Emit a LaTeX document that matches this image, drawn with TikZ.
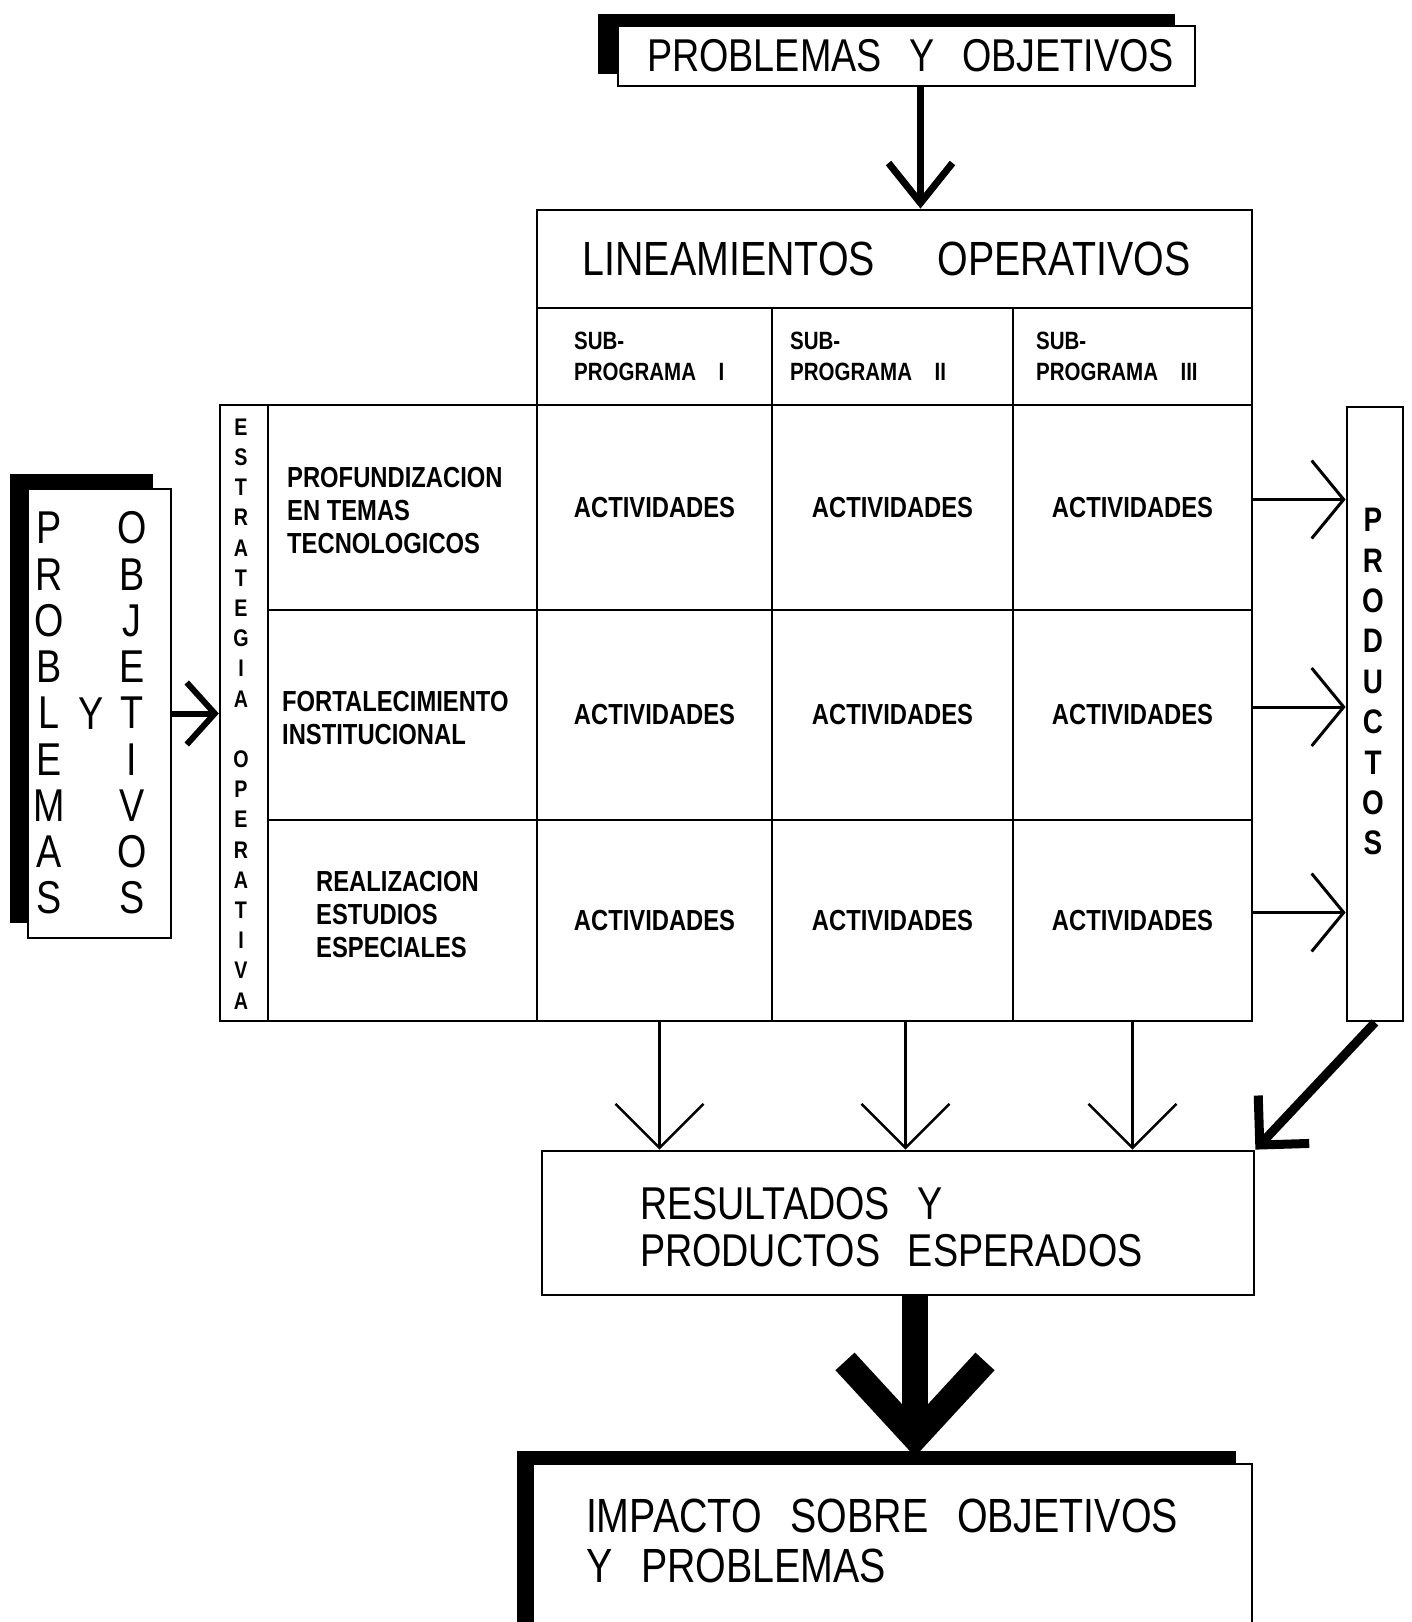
\documentclass[tikz,border=0pt]{standalone}
\usepackage{fontspec}
\setmainfont[FakeStretch=0.82]{Liberation Sans}
\usetikzlibrary{arrows.meta,fit,shadows}
\newcommand{\wgap}{\hspace{.6em}}

\begin{document}
\begin{tikzpicture}[x=0.5pt, y=-0.5pt,
box/.style={draw, line width=1.4pt, fill=white, inner sep=0pt},
cell/.style={draw, line width=1.2pt, inner sep=0pt},
blackshadow/.style 2 args={drop shadow={shadow xshift=#1, shadow yshift=#2, fill=black, opacity=1}},
small/.style={font=\fontsize{14.5}{16.5}\selectfont\bfseries, inner sep=0pt},
sub/.style={font=\fontsize{12.5}{15.5}\selectfont\bfseries, align=left, anchor=west, inner sep=0pt},
tall/.style={font=\fontsize{23}{23}\selectfont, inner sep=0pt},
stack/.style={font=\fontsize{12}{12}\selectfont\bfseries, inner sep=0pt},
barb/.style 2 args={-{Straight Barb[length=#1, width=#2]}}]
\useasboundingbox (0,0) rectangle (1412,1622);
\clip (0,0) rectangle (1412,1622);

% boxes at top and left
\node[box, blackshadow={-10pt}{6pt}, fit={(618,26) (1195,86)}] (prob) {};
\node[font=\fontsize{23}{23}\selectfont] (probtxt) at ([xshift=2pt]prob.center) {PROBLEMAS\wgap Y\wgap OBJETIVOS};
\node[box, blackshadow={-9pt}{7.5pt}, fit={(28,489) (171,938)}] (po) {};
\foreach \l [count=\i from 0] in {P,R,O,B,L,E,M,A,S}
    \node[tall] (pa\i) at (49, 528+46.25*\i) {\l};
\foreach \l [count=\i from 0] in {O,B,J,E,T,I,V,O,S}
    \node[tall] (ob\i) at (132, 528+46.25*\i) {\l};
\node[tall] (py) at (91,714) {Y};

% lineamientos and sub-programas
\node[cell, line width=1.4pt, fit={(537,210) (1252,308)}] (lin) {};
\node[font=\fontsize{24}{24}\selectfont] (lintxt) at ([xshift=-4pt]lin.center) {LINEAMIENTOS\hspace{1.3em}OPERATIVOS};
\foreach \c/\xa/\xb/\dx/\n in {1/537/772/38/I, 2/772/1013/19/II, 3/1013/1252/24/III}{
    \node[cell, fit={(\xa,308) (\xb,405)}] (s\c) {};
    \node[sub] (st\c) at ([xshift=\dx*0.5pt]s\c.west) {SUB-\\PROGRAMA\hspace{.9em}\n};
}

% estrategia operativa
\node[cell, fit={(220,405) (268,1021)}] (est) {};
\foreach \l [count=\i from 0] in {E,S,T,R,A,T,E,G,I,A}
    \node[stack] (e\i) at (241, 427+30.2*\i) {\l};
\foreach \l [count=\i from 11] in {O,P,E,R,A,T,I,V,A}
    \node[stack] (e\i) at (241, 427+30.2*\i) {\l};

% rows
\node[cell, fit={(268,405) (537,610)}] (r1) {};
\node[cell, fit={(268,610) (537,820)}] (r2) {};
\node[cell, fit={(268,820) (537,1021)}] (r3) {};
\node[small, align=left, anchor=west] (rt1) at ([shift={(20,3)}]r1.west) {PROFUNDIZACION\\EN TEMAS\\TECNOLOGICOS};
\node[small, align=left, anchor=west] (rt2) at ([shift={(15,3)}]r2.west) {FORTALECIMIENTO\\INSTITUCIONAL};
\node[small, align=left, anchor=west] (rt3) at ([shift={(49,-6)}]r3.west) {REALIZACION\\ESTUDIOS\\ESPECIALES};
\foreach \r/\ya/\yb in {1/405/610, 2/610/820, 3/820/1021}
    \foreach \c/\xa/\xb in {1/537/772, 2/772/1013, 3/1013/1252}{
        \node[cell, fit={(\xa,\ya) (\xb,\yb)}] (c\r\c) {};
        \node[small] (a\r\c) at (c\r\c) {ACTIVIDADES};
    }

% productos
\node[cell, line width=1.4pt, fit={(1347,407) (1403,1021)}] (prod) {};
\foreach \l [count=\i from 0] in {P,R,O,D,U,C,T,O,S}
    \node[font=\fontsize{17}{17}\selectfont\bfseries, inner sep=0pt] (p\i) at (1373, 520+40.4*\i) {\l};

% resultados and impacto
\node[box, fit={(542,1151) (1254,1295)}] (res) {};
\node[anchor=west, align=left, inner sep=0pt, font=\fontsize{23}{23.5}\selectfont] (restxt) at ([shift={(99,4)}]res.west) {RESULTADOS\wgap Y\\PRODUCTOS\wgap ESPERADOS};
\node[box, blackshadow={-8pt}{6.5pt}, fit={(533,1464) (1252,1700)}] (imp) {};
\node[anchor=north west, align=left, inner sep=0pt, font=\fontsize{24}{25}\selectfont] (imptxt) at ([shift={(54,36)}]imp.north west) {IMPACTO\wgap SOBRE\wgap OBJETIVOS\\Y\wgap PROBLEMAS};

% arrows
\coordinate (pin) at ([xshift=7pt]prob.south);
\draw[line width=3.5pt, barb={20pt}{32pt}] (pin) -- (pin |- lin.north);
\draw[line width=3pt, barb={14pt}{31pt}] (po.east) -- (po.east -| est.west);
\foreach \r in {1,2,3}
    \draw[line width=1.5pt, barb={16pt}{39pt}] ([yshift=4pt]c\r3.east) -- ([yshift=4pt]c\r3.east -| prod.west);
\foreach \c/\dx in {1/2.5pt, 2/6.5pt, 3/0pt}{
    \coordinate (dn\c) at ([xshift=\dx]c3\c.south);
    \draw[line width=1.2pt, barb={22pt}{44pt}] (dn\c) -- (dn\c |- res.north);
}
\draw[line width=4.5pt, barb={17.5pt}{35pt}] (prod.south) -- (res.north east);
\coordinate (rout) at ([xshift=8.5pt]res.south);
\draw[line width=13pt, barb={38pt}{70pt}, shorten >=3pt] (rout) -- (rout |- imp.north);
\end{tikzpicture}
\end{document}
